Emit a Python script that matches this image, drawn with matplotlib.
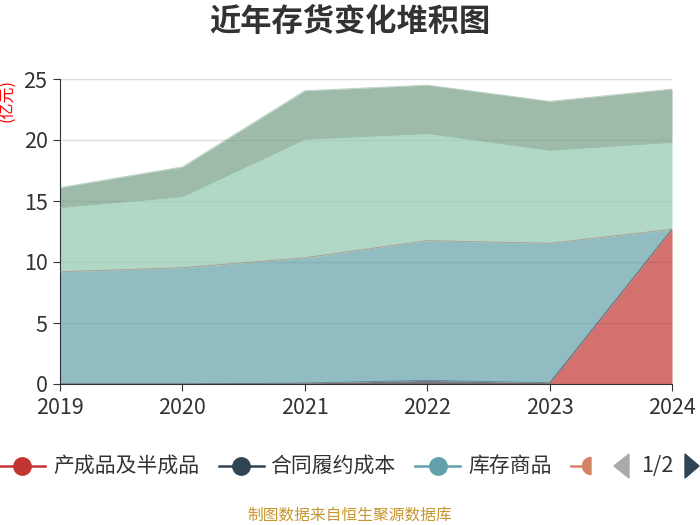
import numpy as np
import matplotlib
matplotlib.use("Agg")
import matplotlib.pyplot as plt
from matplotlib.lines import Line2D
from matplotlib.patches import Wedge, Polygon
from matplotlib.transforms import IdentityTransform

plt.rcParams['font.family'] = ['Noto Sans CJK SC', 'DejaVu Sans']

years = [2019, 2020, 2021, 2022, 2023, 2024]
names = ["产成品及半成品", "合同履约成本", "库存商品", "原材料", "在产品", "周转材料"]
colors = ["#c23531", "#2f4554", "#61a0a8", "#d48265", "#91c7ae", "#749f83"]

chengpin = [0, 0, 0, 0, 0, 12.68]
hetong = [0, 0, 0.08, 0.3, 0.1, 0]
kucun = [9.2, 9.53, 10.27, 11.45, 11.43, 0]
yuancailiao = [0, 0, 0, 0, 0, 0]
zaichanpin = [5.25, 5.82, 9.7, 8.77, 7.62, 7.12]
zhouzhuan = [1.65, 2.45, 3.99, 3.98, 4.02, 4.38]
series = [chengpin, hetong, kucun, yuancailiao, zaichanpin, zhouzhuan]

W, H = 700, 525
fig = plt.figure(figsize=(7, 5.25), dpi=100)
ax = fig.add_axes([60 / W, 1 - 384 / H, 612 / W, 305 / H])

bottom = np.zeros(len(years))
for vals, c in zip(series, colors):
    top = bottom + np.array(vals)
    ax.fill_between(years, bottom, top, color=c, alpha=0.7, linewidth=0, zorder=2)
    ax.plot(years, top, color=c, lw=0.6, alpha=0.5, zorder=3)
    bottom = top

ax.set_xlim(2019, 2024)
ax.set_ylim(0, 25)
ax.set_yticks([0, 5, 10, 15, 20, 25])
ax.set_xticks(years)
ax.grid(axis='y', color='#dddddd', lw=1, zorder=1)
for s in ['top', 'right']:
    ax.spines[s].set_visible(False)
for s in ['left', 'bottom']:
    ax.spines[s].set_color('#333333')
ax.tick_params(axis='both', colors='#333333', length=5, direction='out', labelsize=15.5)
ax.tick_params(axis='x', pad=4)
ax.tick_params(axis='y', pad=4)

fig.text(0.5, 1 - 22 / H, "近年存货变化堆积图", ha='center', va='center',
         fontsize=22.5, fontweight='bold', color='#333333')
fig.text(7 / W, 1 - 101 / H, "(亿元)", rotation=90, ha='center', va='center',
         fontsize=11.5, color='red')

# legend, page 1 of 2
ly = H - 466
items = [(0, 22, 53), (219, 241, 270), (415, 438, 468)]
for (x0, xm, xt), nm, c in zip(items, names[:3], colors[:3]):
    fig.add_artist(Line2D([x0, x0 + 45], [ly, ly], color=c, lw=1.8,
                          transform=IdentityTransform()))
    fig.add_artist(Line2D([xm], [ly], marker='o', ms=12.5, color=c, lw=0,
                          transform=IdentityTransform()))
    fig.text(xt / W, ly / H, nm, ha='left', va='center', fontsize=15, color='#333333')
fig.add_artist(Line2D([571, 586], [ly, ly], color=colors[3], lw=1.8,
                      transform=IdentityTransform()))
fig.add_artist(Wedge((591, ly), 8.5, 90, 270, color=colors[3],
                     transform=IdentityTransform()))
fig.add_artist(Polygon([[629, ly + 12], [629, ly - 12], [614, ly]], closed=True,
                       color='#aaaaaa', transform=IdentityTransform()))
fig.text(657 / W, ly / H, "1/2", ha='center', va='center', fontsize=15.5,
         color='#333333')
fig.add_artist(Polygon([[685, ly + 12], [685, ly - 12], [699, ly]], closed=True,
                       color='#2f4554', transform=IdentityTransform()))

fig.text(0.5, 1 - 515 / H, "制图数据来自恒生聚源数据库", ha='center', va='center',
         fontsize=11.3, color='#c8962e')

fig.savefig("out.png", dpi=100)
